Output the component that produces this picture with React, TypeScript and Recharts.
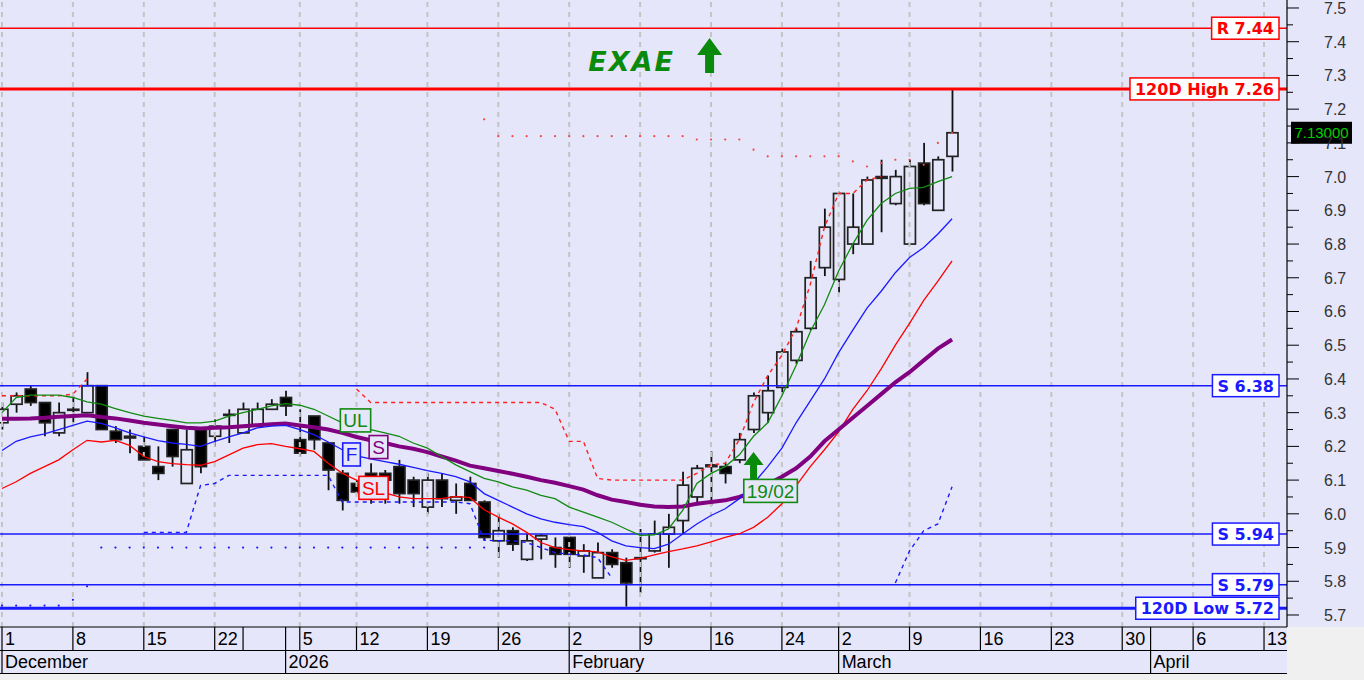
import React from 'react';
import { ComposedChart, Bar, Line, XAxis, YAxis, ReferenceLine, ReferenceDot } from 'recharts';

// ---------- data ----------
const dates = [
  '2025-12-01','2025-12-02','2025-12-03','2025-12-04','2025-12-05','2025-12-08','2025-12-09','2025-12-10','2025-12-11','2025-12-12',
  '2025-12-15','2025-12-16','2025-12-17','2025-12-18','2025-12-19','2025-12-22','2025-12-23','2025-12-29','2025-12-30','2025-12-31',
  '2026-01-02','2026-01-05','2026-01-07','2026-01-08','2026-01-09','2026-01-12','2026-01-13','2026-01-14','2026-01-15','2026-01-16',
  '2026-01-19','2026-01-20','2026-01-21','2026-01-22','2026-01-23','2026-01-26','2026-01-27','2026-01-28','2026-01-29','2026-01-30',
  '2026-02-02','2026-02-03','2026-02-04','2026-02-05','2026-02-06','2026-02-09','2026-02-10','2026-02-11','2026-02-12','2026-02-13',
  '2026-02-16','2026-02-17','2026-02-18','2026-02-19','2026-02-20','2026-02-24','2026-02-25','2026-02-26','2026-02-27','2026-03-02',
  '2026-03-03','2026-03-04','2026-03-05','2026-03-06','2026-03-09','2026-03-10','2026-03-11','2026-03-12',
];
const opens = [
  6.27,6.325,6.37,6.33,6.24,6.31,6.30,6.38,6.245,6.23,
  6.20,6.14,6.25,6.09,6.25,6.23,6.295,6.24,6.26,6.31,
  6.345,6.22,6.29,6.21,6.12,6.09,6.12,6.12,6.14,6.10,
  6.02,6.10,6.04,6.09,6.035,5.92,5.95,5.865,5.925,5.90,
  5.93,5.875,5.81,5.885,5.855,5.87,5.89,5.94,5.98,6.05,
  6.145,6.14,6.16,6.25,6.30,6.375,6.455,6.55,6.73,6.695,
  6.80,6.80,7.00,6.92,6.80,7.04,6.90,7.06,
];
const highs = [
  6.33,6.36,6.38,6.33,6.33,6.35,6.42,6.38,6.26,6.25,
  6.23,6.20,6.25,6.25,6.25,6.28,6.31,6.33,6.33,6.34,
  6.365,6.31,6.29,6.21,6.13,6.10,6.15,6.13,6.16,6.11,
  6.12,6.12,6.09,6.11,6.04,6.00,5.96,5.94,5.94,5.93,
  5.935,5.91,5.915,5.895,5.87,5.955,5.98,6.00,6.125,6.145,
  6.185,6.15,6.24,6.36,6.41,6.49,6.55,6.75,6.905,6.955,
  6.95,7.00,7.05,7.02,7.05,7.10,7.06,7.26,
];
const lows = [
  6.25,6.30,6.32,6.23,6.23,6.27,6.30,6.25,6.21,6.18,
  6.16,6.10,6.14,6.09,6.12,6.20,6.21,6.24,6.26,6.31,
  6.29,6.17,6.19,6.07,6.01,6.06,6.03,6.03,6.03,6.02,
  6.00,6.02,6.00,6.04,5.92,5.87,5.89,5.86,5.865,5.84,
  5.84,5.825,5.81,5.84,5.725,5.765,5.885,5.84,5.94,6.025,
  6.025,6.09,6.15,6.24,6.27,6.355,6.445,6.545,6.705,6.655,
  6.77,6.80,6.835,6.915,6.80,6.915,6.90,7.015,
];
const closes = [
  6.31,6.35,6.33,6.27,6.30,6.31,6.38,6.25,6.22,6.225,
  6.16,6.12,6.17,6.19,6.14,6.26,6.295,6.31,6.31,6.325,
  6.32,6.18,6.22,6.13,6.04,6.065,6.10,6.10,6.06,6.06,
  6.10,6.045,6.05,6.04,5.93,5.95,5.91,5.92,5.935,5.88,
  5.88,5.89,5.885,5.85,5.795,5.87,5.94,5.96,6.085,6.135,
  6.14,6.12,6.22,6.35,6.365,6.48,6.54,6.70,6.85,6.95,
  6.85,6.99,6.995,7.00,7.03,6.92,7.05,7.13,
];
// moving averages
const ulLine = [
  6.30,6.345,6.352,6.352,6.352,6.345,6.332,6.325,6.312,6.30,
  6.29,6.283,6.277,6.27,6.27,6.275,6.29,6.30,6.31,6.32,
  6.327,6.322,6.31,6.29,6.27,6.26,6.25,6.24,6.23,6.21,
  6.195,6.17,6.145,6.125,6.105,6.095,6.08,6.07,6.055,6.045,
  6.02,6.005,5.99,5.975,5.955,5.936,5.938,5.955,6.01,6.09,
  6.12,6.14,6.175,6.23,6.27,6.35,6.44,6.54,6.62,6.72,
  6.80,6.87,6.92,6.95,6.965,6.968,6.985,7.00,
];
const fLine = [
  6.188,6.215,6.228,6.237,6.25,6.262,6.275,6.268,6.255,6.24,
  6.228,6.217,6.21,6.206,6.20,6.215,6.228,6.24,6.255,6.26,
  6.262,6.25,6.235,6.213,6.19,6.172,6.163,6.155,6.147,6.138,
  6.128,6.12,6.11,6.095,6.06,6.04,6.02,6.00,5.985,5.975,
  5.968,5.962,5.945,5.92,5.905,5.90,5.897,5.91,5.94,5.97,
  5.995,6.015,6.045,6.09,6.14,6.195,6.27,6.335,6.40,6.478,
  6.545,6.61,6.66,6.715,6.76,6.79,6.83,6.875,
];
const sLine = [
  6.282,6.282,6.283,6.285,6.288,6.29,6.292,6.287,6.283,6.277,
  6.27,6.265,6.26,6.255,6.253,6.255,6.257,6.26,6.263,6.266,
  6.268,6.262,6.257,6.25,6.24,6.228,6.218,6.21,6.20,6.193,
  6.183,6.17,6.158,6.143,6.135,6.127,6.119,6.11,6.10,6.092,
  6.082,6.072,6.055,6.042,6.035,6.027,6.022,6.02,6.022,6.03,
  6.035,6.04,6.05,6.065,6.088,6.11,6.135,6.17,6.215,6.25,
  6.285,6.32,6.355,6.39,6.42,6.455,6.49,6.517,
];
const slLine = [
  6.075,6.095,6.12,6.14,6.16,6.19,6.218,6.213,6.218,6.203,
  6.17,6.155,6.149,6.146,6.144,6.155,6.175,6.195,6.205,6.208,
  6.20,6.193,6.185,6.15,6.12,6.10,6.08,6.062,6.05,6.045,
  6.045,6.045,6.052,6.048,6.012,5.99,5.97,5.945,5.915,5.90,
  5.894,5.89,5.887,5.872,5.862,5.868,5.878,5.888,5.896,5.905,
  5.917,5.93,5.941,5.96,5.99,6.03,6.083,6.14,6.19,6.243,
  6.31,6.365,6.43,6.50,6.565,6.633,6.69,6.75,
];
// trailing stops
const stopShort = [
  6.35,6.35,6.35,6.35,6.35,6.355,6.40,null,null,null,
  null,null,null,null,null,null,null,null,null,null,
  null,null,null,null,null,6.37,6.33,6.33,6.33,6.33,
  6.33,6.33,6.33,6.33,6.33,6.33,6.33,6.33,6.33,6.31,
  6.215,6.215,6.105,6.10,6.10,6.10,6.10,6.10,6.10,6.12,
  6.145,6.15,6.22,6.33,6.41,6.47,6.55,6.68,6.85,6.95,
  6.95,6.99,7.00,null,null,null,null,null,
];
const stopLong = [
  null,null,null,null,null,null,null,null,null,null,
  5.945,5.945,5.945,5.945,6.084,6.09,6.114,6.114,6.114,6.114,
  6.114,6.114,6.114,6.114,6.035,6.035,6.035,6.035,6.035,6.035,
  6.035,6.035,6.035,6.03,5.922,5.92,5.92,5.915,5.9,5.885,
  5.88,5.878,5.87,5.81,null,null,null,null,null,null,
  null,null,null,null,null,null,null,null,null,null,
  null,null,null,5.795,5.89,5.95,5.97,6.08,
];
const resistDots = [
  null,null,null,null,null,null,null,null,null,null,
  null,null,null,null,null,null,null,null,null,null,
  null,null,null,null,null,null,null,null,null,null,
  null,null,null,null,7.17,7.12,7.12,7.12,7.12,7.12,
  7.12,7.12,7.12,7.12,7.12,7.12,7.12,7.12,7.12,7.11,
  7.11,7.11,7.11,7.08,7.06,7.06,7.06,7.06,7.06,7.06,
  7.045,7.03,7.04,7.05,7.05,7.035,7.10,7.13,
];
const supportDots = [
  5.728,5.728,5.728,5.728,5.728,5.745,5.785,5.90,5.90,5.90,
  5.90,5.90,5.90,5.90,5.90,5.90,5.90,5.90,5.90,5.90,
  5.90,5.90,5.90,5.90,5.90,5.90,5.90,5.90,5.90,5.90,
  5.90,5.90,5.90,5.90,5.90,null,null,null,null,null,
  null,null,null,null,null,null,null,null,null,null,
  null,null,null,null,null,null,null,null,null,null,
  null,null,null,null,null,null,null,null,
];

// horizontal levels
const levelValues = [7.44, 7.26, 6.38, 5.94, 5.79, 5.72];
const levelLabels = ['R 7.44', '120D High 7.26', 'S 6.38', 'S 5.94', 'S 5.79', '120D Low 5.72'];
const levelKinds = ['R', 'H', 'S', 'S', 'S', 'L'];

// annotations
const maTagIdx = [24.93, 26.55, 24.65, 26.2];
const maTagPrice = [6.277, 6.198, 6.176, 6.077];
const maTagText = ['UL', 'S', 'F', 'SL'];
const signalIdx = 53;
const signalTip = 6.183;
const signalLabelIdx = 54.2;
const signalLabelPrice = 6.068;
const signalText = '19/02';
const titleText = 'EXAE';
const titleIdx = 44.4;
const titlePrice = 7.344;
const titleArrowIdx = 49.9;
const titleArrowTip = 7.411;
const lastPriceText = '7.13000';
const lastPrice = 7.13;

// axes
const xDomain = [-0.141, 90.62];
const gridIdx = [0, 5, 10, 15, 21, 25, 30, 35, 40, 45, 50, 55, 59, 64, 69, 74, 79, 84, 89];
const dayTickIdx = [0, 5, 10, 15, 17, 20, 21, 25, 30, 35, 40, 45, 50, 55, 59, 64, 69, 74, 79, 81, 84, 89];
const dayTickLabels = ['1', '8', '15', '22', '', '', '5', '12', '19', '26', '2', '9', '16', '24', '2', '9', '16', '23', '30', '', '6', '13'];
const monthTickIdx = [0, 20, 40, 59, 81];
const monthTickLabels = ['December', '2026', 'February', 'March', 'April'];
const yDomain = [5.6644, 7.5237];
const yTicks = [
  5.7, 5.75, 5.8, 5.85, 5.9, 5.95, 6.0, 6.05, 6.1, 6.15, 6.2, 6.25, 6.3, 6.35, 6.4, 6.45, 6.5, 6.55,
  6.6, 6.65, 6.7, 6.75, 6.8, 6.85, 6.9, 6.95, 7.0, 7.05, 7.1, 7.15, 7.2, 7.25, 7.3, 7.35, 7.4, 7.45, 7.5,
];

// ---------- styling ----------
const LAV = '#E6E6FA';
const RED = '#FF0000';
const BLUE = '#1A1AFF';
const GREEN = '#108A10';
const PURPLE = '#800080';
const ARIAL = '"Liberation Sans", Arial, sans-serif';
const VERD = '"DejaVu Sans", Verdana, sans-serif';

const levelStyle: Record<string, { color: string; width: number }> = {
  R: { color: RED, width: 1.5 },
  H: { color: RED, width: 3 },
  S: { color: BLUE, width: 1.5 },
  L: { color: BLUE, width: 3 },
};

let ctx: CanvasRenderingContext2D | null = null;
function measure(text: string, font: string) {
  if (!ctx) ctx = document.createElement('canvas').getContext('2d');
  if (!ctx) return text.length * 9;
  ctx.font = font;
  return ctx.measureText(text).width;
}

const data = dates.map((d, i) => ({
  i,
  date: d,
  range: [lows[i], highs[i]],
  o: opens[i],
  h: highs[i],
  l: lows[i],
  c: closes[i],
  ul: ulLine[i],
  f: fLine[i],
  s: sLine[i],
  sl: slLine[i],
  stS: stopShort[i],
  stL: stopLong[i],
  rd: resistDots[i],
  sd: supportDots[i],
}));

const Candle = (props: any) => {
  const { x, y, width, height, payload } = props;
  if (x == null || y == null) return null;
  const { o, c, h, l } = payload;
  const span = h - l;
  const py = (v: number) => (span > 0 ? y + ((h - v) / span) * height : y);
  const cx = x + width / 2;
  const top = py(Math.max(o, c));
  const bot = py(Math.min(o, c));
  const up = c >= o;
  const bh = Math.max(bot - top, 1);
  return (
    <g>
      <line x1={cx} x2={cx} y1={y} y2={top} stroke="#111" strokeWidth={1.8} />
      <line x1={cx} x2={cx} y1={top + bh} y2={y + height} stroke="#111" strokeWidth={1.8} />
      <rect x={x} y={top} width={width} height={bh} fill={up ? 'none' : '#000'} stroke="#222" strokeWidth={1.7} />
    </g>
  );
};

const LevelLabel = ({ viewBox, text, color }: any) => {
  if (!viewBox) return null;
  const font = `bold 16px ${VERD}`;
  const w = measure(text, font) + 10;
  const right = viewBox.x + viewBox.width - 8;
  const h = 22;
  return (
    <g>
      <rect x={right - w} y={viewBox.y - h / 2} width={w} height={h} fill="#FFFFFF" stroke={color} strokeWidth={1.5} />
      <text x={right - w / 2} y={viewBox.y + 6} textAnchor="middle" fill={color} style={{ font }}>{text}</text>
    </g>
  );
};

const TagBox = ({ cx, cy, text, color }: any) => {
  const font = `19px ${ARIAL}`;
  const w = measure(text, font) + 6;
  const h = 23;
  return (
    <g>
      <rect x={cx - w / 2} y={cy - h / 2} width={w} height={h} fill={LAV} stroke={color} strokeWidth={1.6} />
      <text x={cx} y={cy + 7} textAnchor="middle" fill={color} style={{ font }}>{text}</text>
    </g>
  );
};

const UpArrow = ({ cx, cy, headW, headH, shaftW, len, color }: any) => (
  <polygon
    points={[
      [cx, cy],
      [cx + headW / 2, cy + headH],
      [cx + shaftW / 2, cy + headH],
      [cx + shaftW / 2, cy + len],
      [cx - shaftW / 2, cy + len],
      [cx - shaftW / 2, cy + headH],
      [cx - headW / 2, cy + headH],
    ].map((p) => p.join(',')).join(' ')}
    fill={color}
  />
);

const YTick = (props: any) => {
  const { x, y, payload } = props;
  const v = payload.value as number;
  const major = Math.round(v * 100) % 10 === 0;
  return (
    <g>
      <line x1={x} x2={x + (major ? 12 : 6)} y1={y} y2={y} stroke="#000" strokeWidth={1} />
      {major && (
        <text x={x + 37} y={y + 6} fill="#333" style={{ font: `16px ${ARIAL}` }}>{v.toFixed(1)}</text>
      )}
    </g>
  );
};

const DateTick = (props: any) => {
  const { x, y, payload } = props;
  const k = dayTickIdx.indexOf(payload.value);
  const m = monthTickIdx.indexOf(payload.value);
  const dayLabel = k >= 0 ? dayTickLabels[k] : '';
  return (
    <g>
      <line x1={x} x2={x} y1={y} y2={y + 23} stroke="#000" strokeWidth={1.2} />
      <text x={x + 3} y={y + 18} fill="#000" style={{ font: `18px ${ARIAL}` }}>{dayLabel}</text>
      {m >= 0 && (
        <g>
          <line x1={x} x2={x} y1={y + 23} y2={y + 46} stroke="#000" strokeWidth={1.2} />
          <text x={x + 3} y={y + 41} fill="#000" style={{ font: `18px ${ARIAL}` }}>{monthTickLabels[m]}</text>
        </g>
      )}
    </g>
  );
};

export default function App() {
  return (
    <div style={{ position: 'absolute', left: 0, top: 0, width: 1364, height: 680, background: '#F0F0F0', overflow: 'hidden' }}>
      <div style={{ position: 'absolute', left: 0, top: 0, width: 1364, height: 627, background: LAV }} />
      <div style={{ position: 'absolute', left: 0, top: 627, width: 1287, height: 46, background: LAV, borderBottom: '1px solid #000' }} />
      <div style={{ position: 'absolute', left: 0, top: 650, width: 1287, height: 0, borderTop: '1px solid #000' }} />
      <div style={{ position: 'absolute', left: 0, top: 0 }}>
        <ComposedChart width={1364} height={680} data={data} margin={{ top: 0, right: 0, bottom: 7, left: 0 }}>
          <XAxis xAxisId="main" dataKey="i" type="number" domain={xDomain} allowDataOverflow hide />
          <XAxis
            xAxisId="dates" dataKey="i" type="number" domain={xDomain} allowDataOverflow ticks={dayTickIdx} interval={0}
            height={46} tick={<DateTick />} tickLine={false} tickSize={0} tickMargin={0}
            axisLine={{ stroke: '#000', strokeWidth: 1.2 }}
          />
          <YAxis
            orientation="right" type="number" domain={yDomain} allowDataOverflow ticks={yTicks} interval={0}
            width={77} tick={<YTick />} tickLine={false} tickSize={0} tickMargin={0}
            axisLine={{ stroke: '#000', strokeWidth: 1.2 }}
          />
          {gridIdx.map((g) => (
            <ReferenceLine key={'g' + g} xAxisId="main" x={g} stroke="#C4C4C4" strokeWidth={2} strokeDasharray="5 5" />
          ))}
          {levelValues.map((v, k) => (
            <ReferenceLine
              key={'lv' + k} xAxisId="main" y={v}
              stroke={levelStyle[levelKinds[k]].color} strokeWidth={levelStyle[levelKinds[k]].width}
              label={(p: any) => <LevelLabel {...p} text={levelLabels[k]} color={levelStyle[levelKinds[k]].color} />}
            />
          ))}
          <Line xAxisId="main" dataKey="sd" stroke="none" strokeWidth={0} dot={{ r: 1.1, fill: BLUE, stroke: 'none' }} activeDot={false} isAnimationActive={false} />
          <Line xAxisId="main" dataKey="rd" stroke="none" strokeWidth={0} dot={{ r: 1.1, fill: '#F04848', stroke: 'none' }} activeDot={false} isAnimationActive={false} />
          <Line xAxisId="main" dataKey="stL" type="linear" stroke={BLUE} strokeWidth={1.4} strokeDasharray="4 4" dot={false} activeDot={false} isAnimationActive={false} />
          <Line xAxisId="main" dataKey="stS" type="linear" stroke="#FF2020" strokeWidth={1.4} strokeDasharray="4 4" dot={false} activeDot={false} isAnimationActive={false} />
          <Line xAxisId="main" dataKey="sl" type="linear" stroke={RED} strokeWidth={1.3} dot={false} activeDot={false} isAnimationActive={false} />
          <Line xAxisId="main" dataKey="s" type="linear" stroke={PURPLE} strokeWidth={4} dot={false} activeDot={false} isAnimationActive={false} />
          <Line xAxisId="main" dataKey="f" type="linear" stroke={BLUE} strokeWidth={1.3} dot={false} activeDot={false} isAnimationActive={false} />
          <Line xAxisId="main" dataKey="ul" type="linear" stroke={GREEN} strokeWidth={1.3} dot={false} activeDot={false} isAnimationActive={false} />
          <Bar xAxisId="main" dataKey="range" barSize={11} shape={<Candle />} isAnimationActive={false} />
          {maTagText.map((t, k) => (
            <ReferenceDot
              key={'tag' + k} xAxisId="main" x={maTagIdx[k]} y={maTagPrice[k]} r={0}
              shape={(p: any) => <TagBox cx={p.cx} cy={p.cy} text={t} color={[GREEN, PURPLE, BLUE, RED][k]} />}
            />
          ))}
          <ReferenceDot
            xAxisId="main" x={signalIdx} y={signalTip} r={0}
            shape={(p: any) => <UpArrow cx={p.cx} cy={p.cy} headW={20} headH={13} shaftW={7} len={28} color="#0A8A0A" />}
          />
          <ReferenceDot
            xAxisId="main" x={signalLabelIdx} y={signalLabelPrice} r={0}
            shape={(p: any) => <TagBox cx={p.cx} cy={p.cy} text={signalText} color={GREEN} />}
          />
          <ReferenceDot
            xAxisId="main" x={titleIdx} y={titlePrice} r={0}
            shape={(p: any) => (
              <text x={p.cx} y={p.cy + 10} textAnchor="middle" fill="#0A8A0A"
                style={{ font: `italic bold 27px ${VERD}`, letterSpacing: 2 }}>{titleText}</text>
            )}
          />
          <ReferenceDot
            xAxisId="main" x={titleArrowIdx} y={titleArrowTip} r={0}
            shape={(p: any) => <UpArrow cx={p.cx} cy={p.cy} headW={25} headH={17} shaftW={9} len={35} color="#0A8A0A" />}
          />
          <ReferenceLine
            xAxisId="main" y={lastPrice} stroke="none" strokeWidth={0}
            label={(p: any) => {
              const vb = p.viewBox;
              if (!vb) return null;
              const x0 = vb.x + vb.width + 4;
              return (
                <g>
                  <rect x={x0} y={vb.y - 11} width={61} height={22} fill="#000" />
                  <text x={x0 + 30.5} y={vb.y + 5.5} textAnchor="middle" fill="#00D000" style={{ font: `15px ${ARIAL}` }}>{lastPriceText}</text>
                </g>
              );
            }}
          />
        </ComposedChart>
      </div>
    </div>
  );
}
